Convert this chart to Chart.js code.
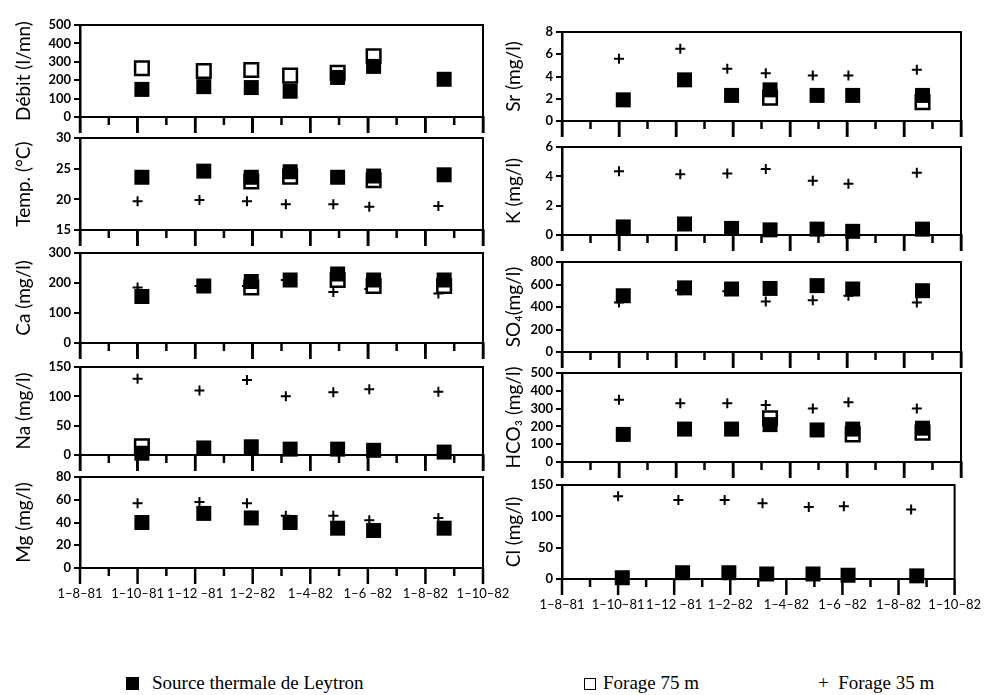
<!DOCTYPE html>
<html>
<head>
<meta charset="utf-8">
<script src="https://cdn.jsdelivr.net/npm/chart.js@4.4.1/dist/chart.umd.min.js"></script>
<style>
  body { margin: 0; background: #fff; width: 991px; height: 695px; position: relative; overflow: hidden; }
  canvas { position: absolute; }
  .lg { position: absolute; top: 672px; font: 19px 'Liberation Serif', serif; color: #000; white-space: pre; }
  .box { position: absolute; }
</style>
</head>
<body>
<div class="box" style="left:126px;top:677px;width:13px;height:13px;background:#000"></div>
<div class="lg" style="left:152px">Source thermale de Leytron</div>
<div class="box" style="left:584px;top:678px;width:10px;height:10px;border:1.5px solid #000"></div>
<div class="lg" style="left:603px">Forage 75 m</div>
<div class="lg" style="left:818px">+  Forage 35 m</div>

<script>
// x axis: months after 1-8-81, one label every 2 months
const dateLabels = ['1–8–81', '1–10–81', '1–12 –81', '1–2–82', '1–4–82', '1–6 –82', '1–8–82', '1–10–82'];
const srcMonths = [2.15, 4.3, 5.95, 7.3, 8.95, 10.2, 12.65];   // source + forage 75 m
const f35Months = [2.0, 4.15, 5.8, 7.15, 8.8, 10.05, 12.45];   // forage 35 m

// values (null = no visible point)
const debitSrc = [150, 165, 160, 140, 215, 275, 205];
const debitF75 = [265, 250, 255, 225, 240, 330, null];
const debitF35 = [null, null, null, null, null, null, null];

const tempSrc = [23.6, 24.6, 23.6, 24.5, 23.6, 23.8, 24.0];
const tempF75 = [null, null, 22.9, 23.7, null, 23.1, null];
const tempF35 = [19.7, 19.9, 19.7, 19.2, 19.2, 18.8, 18.9];

const caSrc = [155, 190, 205, 210, 230, 210, 210];
const caF75 = [null, null, 185, null, 210, 190, 190];
const caF35 = [185, 190, 190, 210, 170, 180, 165];

const naSrc = [3, 12, 14, 10, 10, 8, 5];
const naF75 = [15, null, null, null, null, null, null];
const naF35 = [130, 110, 128, 100, 107, 112, 108];

const mgSrc = [40, 48, 44, 40, 35, 33, 35];
const mgF75 = [null, null, null, null, null, null, null];
const mgF35 = [57, 58, 57, 46, 46, 42, 44];

const srSrc = [1.9, 3.7, 2.3, 2.8, 2.3, 2.3, 2.3];
const srF75 = [null, null, null, 2.1, null, null, 1.7];
const srF35 = [5.6, 6.5, 4.7, 4.3, 4.1, 4.1, 4.6];

const kSrc = [0.55, 0.75, 0.45, 0.35, 0.4, 0.25, 0.4];
const kF75 = [null, null, null, null, null, null, null];
const kF35 = [4.35, 4.15, 4.2, 4.5, 3.7, 3.5, 4.25];

const so4Src = [500, 570, 560, 565, 590, 560, 545];
const so4F75 = [null, null, null, null, null, null, null];
const so4F35 = [440, 550, 540, 450, 460, 500, 440];

const hco3Src = [155, 185, 185, 210, 180, 185, 190];
const hco3F75 = [null, null, null, 245, null, 155, 165];
const hco3F35 = [350, 330, 330, 320, 300, 335, 300];

const clSrc = [2, 10, 10, 8, 8, 6, 5];
const clF75 = [null, null, null, null, null, null, null];
const clF35 = [132, 126, 126, 121, 115, 116, 111];

// panels: column 0 = left, 1 = right; top/bottom = chart area in page px
const panels = [
  { title: 'Débit (l/mn)', min: 0, max: 500, step: 100, src: debitSrc, f75: debitF75, f35: debitF35, col: 0, top: 25, bottom: 117 },
  { title: 'Temp. (°C)', min: 15, max: 30, step: 5, src: tempSrc, f75: tempF75, f35: tempF35, col: 0, top: 138, bottom: 230 },
  { title: 'Ca (mg/l)', min: 0, max: 300, step: 100, src: caSrc, f75: caF75, f35: caF35, col: 0, top: 253, bottom: 343 },
  { title: 'Na (mg/l)', min: 0, max: 150, step: 50, src: naSrc, f75: naF75, f35: naF35, col: 0, top: 367, bottom: 455 },
  { title: 'Mg (mg/l)', min: 0, max: 80, step: 20, src: mgSrc, f75: mgF75, f35: mgF35, col: 0, top: 477, bottom: 568, last: true },
  { title: 'Sr (mg/l)', min: 0, max: 8, step: 2, src: srSrc, f75: srF75, f35: srF35, col: 1, top: 32, bottom: 121 },
  { title: 'K (mg/l)', min: 0, max: 6, step: 2, src: kSrc, f75: kF75, f35: kF35, col: 1, top: 147, bottom: 235 },
  { title: 'SO₄(mg/l)', min: 0, max: 800, step: 200, src: so4Src, f75: so4F75, f35: so4F35, col: 1, top: 262, bottom: 352 },
  { title: 'HCO₃ (mg/l)', min: 0, max: 500, step: 100, src: hco3Src, f75: hco3F75, f35: hco3F35, col: 1, top: 373, bottom: 462 },
  { title: 'Cl (mg/l)', min: 0, max: 150, step: 50, src: clSrc, f75: clF75, f35: clF35, col: 1, top: 485, bottom: 579, last: true }
];

Chart.defaults.color = '#000';
Chart.defaults.font.family = 'Lato';

// top + right frame lines
const frame = {
  id: 'frame',
  beforeDatasetsDraw(chart) {
    const ctx = chart.ctx;
    const a = chart.chartArea;
    ctx.save();
    ctx.strokeStyle = '#000';
    ctx.lineWidth = 2;
    ctx.beginPath();
    ctx.moveTo(a.left, a.top);
    ctx.lineTo(a.right, a.top);
    ctx.lineTo(a.right, a.bottom);
    ctx.stroke();
    ctx.restore();
  }
};

const pts = (xs, ys) => xs.map((x, i) => ({ x: x, y: ys[i] })).filter(d => d.y !== null);

// overlay for the monthly ticks under every time axis
const overlay = document.createElement('canvas');
overlay.width = 991;
overlay.height = 695;
overlay.style.left = '0px';
overlay.style.top = '0px';
overlay.style.zIndex = '100';
overlay.style.pointerEvents = 'none';

const charts = [];

panels.forEach(p => {
  const left = p.col === 0;
  const padTop = 30;
  const bottomH = p.last ? 45 : 22;
  const canvasLeft = left ? 0 : 490;
  const canvasW = left ? 520 : 501;
  const axisW = left ? 80 : 72;
  const areaRight = left ? 483 : 961;
  const canvasTop = p.top - padTop;

  const cv = document.createElement('canvas');
  cv.width = canvasW;
  cv.height = padTop + (p.bottom - p.top) + bottomH;
  cv.style.left = canvasLeft + 'px';
  cv.style.top = canvasTop + 'px';
  document.body.appendChild(cv);

  const xGrid = p.last
    ? { display: false }
    : { display: true, drawOnChartArea: false, drawTicks: true, tickLength: 16, color: '#000', lineWidth: 2.5 };

  const chart = new Chart(cv, {
    type: 'scatter',
    data: {
      datasets: [
        { label: 'Source thermale de Leytron', data: pts(srcMonths, p.src), pointStyle: 'rect', pointRadius: 10.6,
          backgroundColor: '#000', borderColor: '#000', borderWidth: 0, clip: false },
        { label: 'Forage 75 m', data: pts(srcMonths, p.f75), pointStyle: 'rect', pointRadius: 9.6,
          backgroundColor: '#fff', borderColor: '#000', borderWidth: 2.5, clip: false },
        { label: 'Forage 35 m', data: pts(f35Months, p.f35), pointStyle: 'cross', pointRadius: 5,
          borderColor: '#000', borderWidth: 2, clip: false }
      ]
    },
    options: {
      responsive: false,
      animation: false,
      events: [],
      layout: { padding: { top: padTop, right: canvasW - (areaRight - canvasLeft), left: 0, bottom: 0 } },
      plugins: { legend: { display: false }, tooltip: { enabled: false } },
      scales: {
        x: {
          type: 'linear', min: 0, max: 14,
          border: { display: true, color: '#000', width: 2 },
          grid: xGrid,
          ticks: {
            display: !!p.last, stepSize: 2, autoSkip: false, maxRotation: 0, padding: 10,
            font: { size: 13 },
            callback: v => dateLabels[v / 2]
          },
          afterFit: s => { s.height = bottomH; }
        },
        y: {
          min: p.min, max: p.max,
          border: { color: '#000', width: 2.5 },
          grid: { drawOnChartArea: false, color: '#000', lineWidth: 2, tickLength: 6 },
          ticks: { stepSize: p.step, autoSkip: false, padding: 3, font: { size: 13, weight: 'bold' } },
          title: { display: true, text: p.title, font: { size: 19 }, padding: { top: 12, bottom: 0 } },
          afterFit: s => { s.width = axisW; }
        }
      }
    },
    plugins: [frame]
  });
  charts.push({ chart: chart, dx: canvasLeft, dy: canvasTop, yPage: p.bottom, last: !!p.last });
});

document.body.appendChild(overlay);
const octx = overlay.getContext('2d');
octx.strokeStyle = '#000';
octx.lineWidth = 2.5;
charts.forEach(c => {
  const xs = c.chart.scales.x;
  const yBase = c.last ? c.dy + c.chart.chartArea.bottom : c.yPage;
  for (let m = 0; m <= 14; m++) {
    let px = xs.getPixelForValue(m);
    if (!isFinite(px)) px = xs.left + (m / 14) * xs.width;
    px += c.dx;
    octx.beginPath();
    octx.moveTo(px, yBase);
    octx.lineTo(px, yBase + (m % 2 === 1 ? 8 : 16));
    octx.stroke();
  }
});
</script>
</body>
</html>
